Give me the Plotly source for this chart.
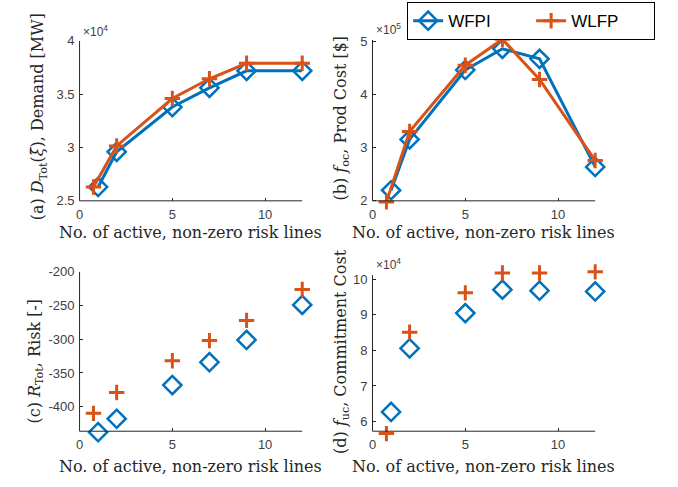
import plotly.graph_objects as go

W, H = 678, 487

# ---------------- data ----------------
x_wfpi = [1, 2, 5, 7, 9, 12]
x_wlfp = [0.75, 2, 5, 7, 9, 12]

demand_wfpi = [26300, 29600, 33800, 35600, 37200, 37200]
demand_wlfp = [26300, 30150, 34600, 36450, 37900, 37900]

prodcost_wfpi = [220000, 316000, 447000, 487000, 468000, 264000]
prodcost_wlfp = [198000, 331000, 456000, 505000, 429000, 276000]

risk_wfpi = [-438, -418, -368, -334, -301, -249]
risk_wlfp = [-410, -379, -332, -302, -272, -226]

commit_wfpi = [62700, 80600, 90500, 97100, 96800, 96600]
commit_wlfp = [56600, 85100, 96200, 101800, 101800, 102100]

x_ticks = [0, 5, 10]
a_ticks = [25000, 30000, 35000, 40000]; a_text = ["2.5", "3", "3.5", "4"]
b_ticks = [200000, 300000, 400000, 500000]; b_text = ["2", "3", "4", "5"]
c_ticks = [-400, -350, -300, -250, -200]; c_text = ["-400", "-350", "-300", "-250", "-200"]
d_ticks = [60000, 70000, 80000, 90000, 100000]; d_text = ["6", "7", "8", "9", "10"]

xlabel = "No. of active, non-zero risk lines"
ylabels = [
    "(a) <i>D</i><sub>Tot</sub>(<i>ξ̄</i>), Demand [MW]",
    "(b) <i>f</i><sub>oc</sub>, Prod Cost [$]",
    "(c) <i>R</i><sub>Tot</sub>, Risk [-]",
    "(d) <i>f</i><sub>uc</sub>, Commitment Cost",
]

BLUE = "#0072BD"
ORANGE = "#D95319"
AX = "#262626"
TICKC = "#404040"
SANS = "Liberation Sans, Arial, sans-serif"
SERIF = "DejaVu Serif, serif"

fig = go.Figure()

def add_pair(xa, ya, yb_w, yb_l, mode, legend):
    fig.add_trace(go.Scatter(
        x=x_wfpi, y=yb_w, mode=mode, name="WFPI", showlegend=legend,
        xaxis=xa, yaxis=ya, cliponaxis=False,
        line=dict(color=BLUE, width=3),
        marker=dict(symbol="diamond-open", size=14, color=BLUE,
                    line=dict(color=BLUE, width=2.5)),
    ))
    fig.add_trace(go.Scatter(
        x=x_wlfp, y=yb_l, mode=mode, name="WLFP", showlegend=legend,
        xaxis=xa, yaxis=ya, cliponaxis=False,
        line=dict(color=ORANGE, width=3),
        marker=dict(symbol="cross-thin-open", size=11, color=ORANGE,
                    line=dict(color=ORANGE, width=3)),
    ))

add_pair("x", "y", demand_wfpi, demand_wlfp, "lines+markers", False)
add_pair("x2", "y2", prodcost_wfpi, prodcost_wlfp, "lines+markers", True)
add_pair("x3", "y3", risk_wfpi, risk_wlfp, "markers", False)
add_pair("x4", "y4", commit_wfpi, commit_wlfp, "markers", False)

common = dict(showline=False, showgrid=False, zeroline=False, ticks="inside", ticklen=3,
              tickcolor=AX, tickfont=dict(family=SANS, size=13, color=TICKC))

# pixel geometry: x (left, right), visible y range v mapped to pixels (pb, pt),
# data range d (slightly wider so no point is hidden), line top pixel
geo = {
    1: dict(x=(76, 300), v=[25000, 40000], pb=200, pt=35, d=[25000, 40000], lt=35,
            tv=a_ticks, tt=a_text),
    2: dict(x=(370.7, 594.7), v=[200000, 500000], pb=200, pt=36, d=[195000, 510000], lt=34,
            tv=b_ticks, tt=b_text),
    3: dict(x=(76, 300), v=[-436.5, -200], pb=437.7, pt=273.3, d=[-445, -200], lt=273.3,
            tv=c_ticks, tt=c_text),
    4: dict(x=(370.7, 594.7), v=[57270, 101170], pb=437.7, pt=276.7, d=[56000, 102500], lt=276.7,
            tv=d_ticks, tt=d_text),
}

layout_axes = {}
shapes = []
for i, g in geo.items():
    s = "" if i == 1 else str(i)
    v0, v1 = g["v"]
    d0, d1 = g["d"]
    scale = (g["pb"] - g["pt"]) / (v1 - v0)
    dom_b = g["pb"] + (v0 - d0) * scale
    dom_t = g["pt"] - (d1 - v1) * scale
    xl, xr = g["x"]
    layout_axes["xaxis" + s] = dict(common, domain=[xl / W, xr / W], range=[0, 12],
                                    tickvals=x_ticks, anchor="free",
                                    position=1 - g["pb"] / H, ticklabelstandoff=4)
    layout_axes["yaxis" + s] = dict(common, domain=[1 - dom_b / H, 1 - dom_t / H],
                                    range=[d0, d1], tickvals=g["tv"], ticktext=g["tt"],
                                    anchor="x" + s, ticklabelstandoff=4)
    shapes.append(dict(type="line", xref="paper", yref="paper",
                       x0=xl / W, x1=xr / W, y0=1 - g["pb"] / H, y1=1 - g["pb"] / H,
                       line=dict(color=AX, width=1)))
    shapes.append(dict(type="line", xref="paper", yref="paper",
                       x0=xl / W, x1=xl / W, y0=1 - g["pb"] / H, y1=1 - g["lt"] / H,
                       line=dict(color=AX, width=1)))

annotations = []
for cx, cy in [(188, 233), (482.7, 233), (188, 474), (482.7, 474)]:
    annotations.append(dict(text=xlabel, x=cx / W, y=1 - cy / H, xref="paper", yref="paper",
                            xanchor="center", yanchor="middle", showarrow=False,
                            font=dict(family=SERIF, size=16, color=AX)))
for (cx, cy), t in zip([(35, 113), (339, 115), (32, 365), (339, 356)], ylabels):
    annotations.append(dict(text=t, x=cx / W, y=1 - cy / H, xref="paper", yref="paper",
                            xanchor="center", yanchor="middle", showarrow=False, textangle=-90,
                            font=dict(family=SERIF, size=16, color=AX)))
for (lx, ly, e) in [(77, 25, "4"), (372, 23, "5"), (372, 265, "4")]:
    annotations.append(dict(text="×10<sup>%s</sup>" % e, x=lx / W, y=1 - ly / H,
                            xref="paper", yref="paper", xanchor="left", yanchor="middle",
                            showarrow=False, font=dict(family=SANS, size=12, color=TICKC)))

fig.update_layout(
    width=W, height=H, margin=dict(l=0, r=0, t=0, b=0),
    paper_bgcolor="white", plot_bgcolor="white",
    annotations=annotations, shapes=shapes,
    legend=dict(orientation="h", x=655 / W, xanchor="right", y=1 + 5 / H, yanchor="top",
                bgcolor="white", bordercolor="black", borderwidth=1,
                font=dict(family=SANS, size=17, color="black"),
                entrywidth=78, entrywidthmode="pixels", itemwidth=30),
    **layout_axes,
)

fig.write_html("out.html", config={"displayModeBar": False},
               post_script="document.body.style.margin='0';document.body.style.overflow='hidden';")
